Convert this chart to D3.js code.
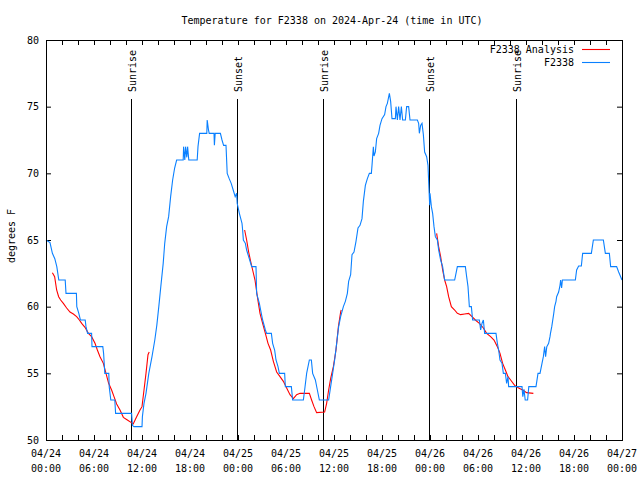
<!DOCTYPE html>
<html>
<head>
<meta charset="utf-8">
<script src="https://cdn.jsdelivr.net/npm/d3@7"></script>
<style>
  html, body { margin: 0; padding: 0; background: #fff; }
  svg text { font-family: "DejaVu Sans Mono", "Liberation Mono", monospace; font-size: 10px; fill: #000; }
</style>
</head>
<body>
<svg id="chart" width="640" height="480"></svg>
<script>
// ---- Data (hours since 2024-04-24 00:00 UTC, temperature in degrees F) ----
const titleText = "Temperature for F2338 on 2024-Apr-24 (time in UTC)";
const yAxisLabel = "degrees F";
const stationName = "F2338";
const analysisName = "F2338 Analysis";

const stationSeries = [
  [0,65],[0.5,64.8],[0.8,64],[1.1,63.6],[1.35,63],[1.6,62],[2.4,62],[2.5,61],[3.8,61],[3.85,60],
  [4.1,59.5],[4.3,59],[4.9,59],[5.0,58.5],[5.2,58],[5.7,58],[5.75,57],[7.1,57],[7.2,56.5],[7.35,55],
  [7.85,55],[7.9,54],[8.1,53],[8.6,53],[8.7,52],[10.7,52],[10.8,51.1],[11.0,51],[12.0,51],[12.05,51.75],
  [12.25,52.75],[12.5,53.5],[12.85,55],[13.25,56.25],[13.6,57.5],[13.85,58.6],[14.1,60],[14.35,61.5],
  [14.65,63.25],[14.84,64.75],[15.08,66],[15.33,66.75],[15.58,68.25],[15.83,69.5],[16.08,70.4],[16.33,71],
  [17.15,71],[17.2,72],[17.35,71],[17.45,72],[17.6,71.2],[17.7,72],[17.85,71],[18.9,71],[19.0,72],
  [19.2,73],[20.1,73],[20.15,74],[20.3,73.3],[20.4,73],[21.0,73],[21.05,72.1],[21.15,73],[21.8,73],
  [22.0,72.5],[22.2,72.1],[22.5,72.1],[22.65,70],[22.9,69.6],[23.15,69.25],[23.4,68.75],[23.65,68.25],
  [23.83,68.5],[23.9,67.75],[24.17,67],[24.5,66.25],[24.58,65.75],[24.67,65],[24.92,64.75],[25.08,64.25],
  [25.33,63.75],[25.71,63],[26.25,63],[26.33,61],[26.67,60.25],[26.83,59.75],[27.08,59],[27.42,58.25],
  [27.58,58],[28.17,58],[28.33,57.25],[28.58,56.75],[28.75,56],[29.0,55.5],[29.17,55],[29.83,55],
  [29.92,54],[30.67,54],[30.83,53],[32.17,53],[32.33,53.75],[32.58,55],[32.92,56],[33.17,56],[33.33,55],
  [33.67,54.5],[33.92,53.75],[34.17,53],[35.33,53],[35.58,54],[35.83,55],[36.08,56],[36.33,57.25],
  [36.58,58.5],[36.83,59.25],[37.17,60],[37.42,60.4],[37.67,61],[37.83,61.9],[38.08,62.4],[38.25,63.9],
  [38.5,64.1],[38.75,64.9],[39.0,65.9],[39.25,66.1],[39.5,66.6],[39.67,67.9],[39.92,69.1],[40.17,69.6],
  [40.42,70],[40.67,70],[40.75,70.6],[40.92,72],[41.0,71.3],[41.17,71.6],[41.33,72.6],[41.58,73],
  [41.75,73.6],[42.0,74.1],[42.33,74.4],[42.5,75],[42.67,75.25],[42.92,76],[43.08,75.4],[43.25,74.1],
  [43.67,74.1],[43.75,75],[43.92,74],[44.08,75],[44.25,74],[44.42,75],[44.58,74],[44.92,74],[45.08,75],
  [45.33,75],[45.5,74],[46.42,74],[46.58,73.75],[46.67,73],[46.83,73.6],[47.0,73.75],[47.17,72.9],
  [47.33,71.6],[47.58,71.25],[47.75,70.6],[47.83,69.4],[47.96,67.6],[48.0,68.5],[48.17,67.5],[48.33,67],
  [48.5,66],[48.67,65.25],[48.92,65],[49.08,64.25],[49.33,63.5],[49.58,63],[49.83,62],[51.08,62],
  [51.17,62.25],[51.42,63],[52.42,63],[52.58,62.25],[52.75,61.5],[52.92,60],[53.17,60],[53.33,59],
  [54.17,59],[54.33,58.25],[54.5,58.75],[54.67,59],[54.83,58],[56.25,58],[56.42,57.25],[56.58,56.75],
  [56.75,56],[57.0,55.75],[57.17,55],[57.42,55],[57.58,54.25],[57.75,54.75],[57.83,54],[59.5,54],
  [59.6,53.25],[59.75,53.8],[59.9,53],[60.2,53],[60.35,54],[61.25,54],[61.5,55],[61.75,55],[62.0,55.75],
  [62.17,56.25],[62.33,57],[62.45,56.25],[62.6,57],[62.83,57.25],[63.0,57.75],[63.06,58],[63.22,58.5],
  [63.47,59.5],[63.58,60],[63.75,60.4],[63.83,60.75],[64.08,61.1],[64.25,61.6],[64.33,62],[64.45,61.4],
  [64.55,62],[66.17,62],[66.33,62.75],[66.58,63.05],[66.92,63.05],[67.08,64],[68.17,64],[68.42,65],
  [69.67,65],[69.92,64],[70.42,64],[70.58,63],[71.33,63],[71.58,62.6],[71.83,62.25],[72,62]
];

const analysisNight1 = [
  [0.8,62.55],[1.08,62.25],[1.33,61.25],[1.58,60.75],[1.83,60.5],[2.17,60.25],[2.58,59.9],[3.0,59.6],
  [3.42,59.45],[3.83,59.25],[4.17,59.0],[4.46,58.75],[4.875,58.45],[5.3,58.0],[5.7,57.75],[6.125,57.25],
  [6.42,56.75],[6.75,56.25],[7.17,55.75],[7.5,55.0],[7.83,54.25],[8.2,53.75],[8.5,53.25],[8.83,52.7],
  [9.25,52.25],[9.67,51.7],[10.17,51.5],[10.67,51.3],[10.9,51.2],[11.33,51.75],[11.75,52.25],[12.0,52.5],
  [12.25,53.75],[12.5,55.0],[12.75,56.4],[12.9,56.6]
];
const analysisNight2 = [
  [24.83,65.75],[25.08,65.0],[25.33,64.1],[25.58,63.4],[25.83,62.75],[26.125,62.0],[26.42,60.75],
  [26.75,59.5],[27.08,58.75],[27.42,58.0],[27.75,57.25],[28.08,56.75],[28.42,55.9],[28.83,55.1],
  [29.25,54.75],[29.67,54.4],[30.08,53.9],[30.5,53.4],[30.92,53.1],[31.33,53.4],[31.75,53.5],[32.92,53.5],
  [33.2,53.0],[33.5,52.5],[33.83,52.05],[34.83,52.1],[35.08,52.75],[35.33,53.75],[35.58,54.6],
  [35.92,55.5],[36.25,56.75],[36.55,58.5],[36.83,59.6],[36.9,59.75]
];
const analysisNight3 = [
  [48.83,65.5],[49.08,64.5],[49.33,63.75],[49.58,62.75],[49.83,62.0],[50.08,61.5],[50.33,60.75],
  [50.67,60.0],[51.08,59.75],[51.42,59.5],[51.83,59.4],[52.33,59.45],[52.83,59.5],[53.25,59.25],
  [53.67,59.0],[54.17,58.75],[54.67,58.4],[55.08,58.0],[55.58,57.75],[56.0,57.5],[56.42,57.0],
  [56.75,56.5],[57.08,55.75],[57.42,55.25],[57.75,54.75],[58.08,54.5],[58.58,54.1],[59.08,53.9],
  [59.58,53.75],[60.08,53.55],[60.92,53.5]
];

const sunEventHours = [10.67, 23.92, 34.67, 47.92, 58.7];
const sunEventNames = ["Sunrise", "Sunset", "Sunrise", "Sunset", "Sunrise"];
const yTickValues = [50, 55, 60, 65, 70, 75, 80];

// ---- Chart ----
const START = Date.UTC(2024, 3, 24, 0, 0, 0);
const toDate = h => new Date(START + h * 3600 * 1000);

const margin = { left: 46, right: 622, top: 40, bottom: 440 };
const svg = d3.select("#chart");

const x = d3.scaleUtc().domain([toDate(0), toDate(72)]).range([margin.left, margin.right]);
const y = d3.scaleLinear().domain([50, 80]).range([margin.bottom, margin.top]);

const fmtDay = d3.utcFormat("%m/%d");
const fmtTime = d3.utcFormat("%H:%M");

// Title
svg.append("text").attr("x", 332).attr("y", 24).attr("text-anchor", "middle").text(titleText);

// Y label
svg.append("text").attr("transform", "translate(15,236) rotate(-90)")
  .attr("text-anchor", "middle").text(yAxisLabel);

// X ticks (every 2h, inward, top and bottom)
const minorTicks = x.ticks(d3.utcHour.every(2));
svg.append("g").attr("transform", `translate(0,${margin.bottom})`)
  .call(d3.axisBottom(x).tickValues(minorTicks).tickSize(-5).tickFormat(""))
  .call(g => g.select(".domain").remove())
  .call(g => g.selectAll("line").attr("stroke", "#000"));
svg.append("g").attr("transform", `translate(0,${margin.top})`)
  .call(d3.axisTop(x).tickValues(minorTicks).tickSize(-5).tickFormat(""))
  .call(g => g.select(".domain").remove())
  .call(g => g.selectAll("line").attr("stroke", "#000"));

// X labels every 6h
const majorTicks = x.ticks(d3.utcHour.every(6));
const xl = svg.append("g").selectAll("text").data(majorTicks).join("text")
  .attr("text-anchor", "middle");
xl.append("tspan").attr("x", d => x(d)).attr("y", 457).text(d => fmtDay(d));
xl.append("tspan").attr("x", d => x(d)).attr("y", 472).text(d => fmtTime(d));

// Y ticks (left with labels, right mirrored)
svg.append("g").attr("transform", `translate(${margin.left},0)`)
  .call(d3.axisLeft(y).tickValues(yTickValues).tickSize(-5).tickPadding(7).tickFormat(d3.format("d")))
  .call(g => g.select(".domain").remove())
  .call(g => g.selectAll("line").attr("stroke", "#000"))
  .call(g => g.selectAll("text").attr("font-family", null).attr("font-size", null).attr("fill", "#000"));
svg.append("g").attr("transform", `translate(${margin.right},0)`)
  .call(d3.axisRight(y).tickValues(yTickValues).tickSize(-5).tickFormat(""))
  .call(g => g.select(".domain").remove())
  .call(g => g.selectAll("line").attr("stroke", "#000"));

// Sunrise / sunset markers
const ev = svg.append("g");
ev.selectAll("line").data(sunEventHours).join("line")
  .attr("x1", d => Math.round(x(toDate(d))) + 0.5).attr("x2", d => Math.round(x(toDate(d))) + 0.5)
  .attr("y1", 99).attr("y2", margin.bottom)
  .attr("stroke", "#000").attr("stroke-width", 1);
ev.selectAll("text").data(sunEventHours).join("text")
  .attr("transform", d => `translate(${Math.round(x(toDate(d))) + 4.5},92) rotate(-90)`)
  .attr("text-anchor", "start")
  .text((d, i) => sunEventNames[i]);

// Lines
const line = d3.line().x(d => x(toDate(d[0]))).y(d => y(d[1]));
[analysisNight1, analysisNight2, analysisNight3].forEach(seg => {
  svg.append("path").datum(seg).attr("d", line)
    .attr("fill", "none").attr("stroke", "#ff0000").attr("stroke-width", 1.1);
});
svg.append("path").datum(stationSeries).attr("d", line)
  .attr("fill", "none").attr("stroke", "#0a80ff").attr("stroke-width", 1.1);

// Frame
svg.append("rect").attr("x", margin.left + 0.5).attr("y", margin.top + 0.5)
  .attr("width", margin.right - margin.left).attr("height", margin.bottom - margin.top)
  .attr("fill", "none").attr("stroke", "#000").attr("stroke-width", 1);

// Legend
const legend = svg.append("g");
const legendItems = [[analysisName, "#ff0000", 53], [stationName, "#0a80ff", 66]];
legendItems.forEach(([name, color, yy]) => {
  legend.append("text").attr("x", 574).attr("y", yy).attr("text-anchor", "end").text(name);
  legend.append("line").attr("x1", 582).attr("x2", 610).attr("y1", yy - 3.5).attr("y2", yy - 3.5)
    .attr("stroke", color).attr("stroke-width", 1.1);
});
</script>
</body>
</html>
